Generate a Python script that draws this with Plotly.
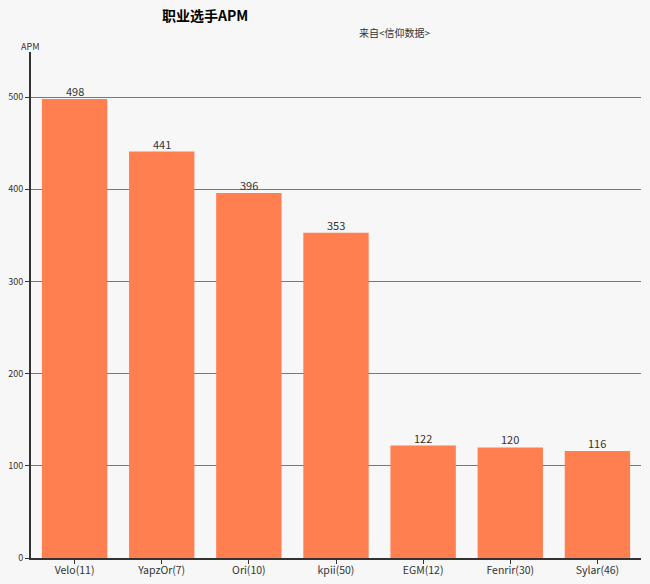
import plotly.graph_objects as go

players = ["Velo(11)", "YapzOr(7)", "Ori(10)", "kpii(50)", "EGM(12)", "Fenrir(30)", "Sylar(46)"]
apm = [498, 441, 396, 353, 122, 120, 116]
y_ticks = [0, 100, 200, 300, 400, 500]

fig = go.Figure(go.Bar(
    x=players, y=apm,
    marker=dict(color="#ff7f50", line=dict(width=0)),
))

# value labels just above each bar
for p, v in zip(players, apm):
    fig.add_annotation(x=p, y=v, xref="x", yref="y", text=str(v), showarrow=False,
                       yanchor="bottom", yshift=-2, font=dict(size=11, color="#333"))

fig.update_layout(
    width=650, height=584,
    paper_bgcolor="#f7f7f7", plot_bgcolor="#f7f7f7",
    margin=dict(l=31, r=9, t=52, b=26),
    bargap=0.25,
    showlegend=False,
    font=dict(family="Noto Sans CJK SC", color="#333"),
    xaxis=dict(
        showline=True, linecolor="#333", linewidth=2,
        ticks="outside", ticklen=4, tickcolor="#333",
        tickfont=dict(size=10.5, color="#333"), ticklabelstandoff=-3,
        showgrid=False, fixedrange=True, automargin=False,
    ),
    yaxis=dict(
        range=[0, 549], tickvals=y_ticks,
        showline=True, linecolor="#333", linewidth=2,
        ticks="outside", ticklen=4, tickcolor="#333",
        tickfont=dict(size=9, color="#333"),
        showgrid=True, gridcolor="#777", gridwidth=1,
        zeroline=False, automargin=False,
    ),
)

# header texts positioned in pixels
pw = 650 - 31 - 9
ph = 584 - 52 - 26
def paper(px, py):
    return (px - 31) / pw, (584 - 26 - py) / ph

for text, px, py, size, color in [
    ("<b>职业选手APM</b>", 205, 15, 14, "#000"),
    ("来自<信仰数据>", 395, 32, 10, "#333"),
    ("APM", 30, 46, 9, "#333"),
]:
    x, y = paper(px, py)
    fig.add_annotation(text=text, x=x, y=y, xref="paper", yref="paper", showarrow=False,
                       xanchor="center", yanchor="middle", font=dict(size=size, color=color))

fig.write_html("out.html", config={"displayModeBar": False},
               post_script="document.body.style.margin='0';document.body.style.background='#f7f7f7';document.body.style.overflow='hidden';")
